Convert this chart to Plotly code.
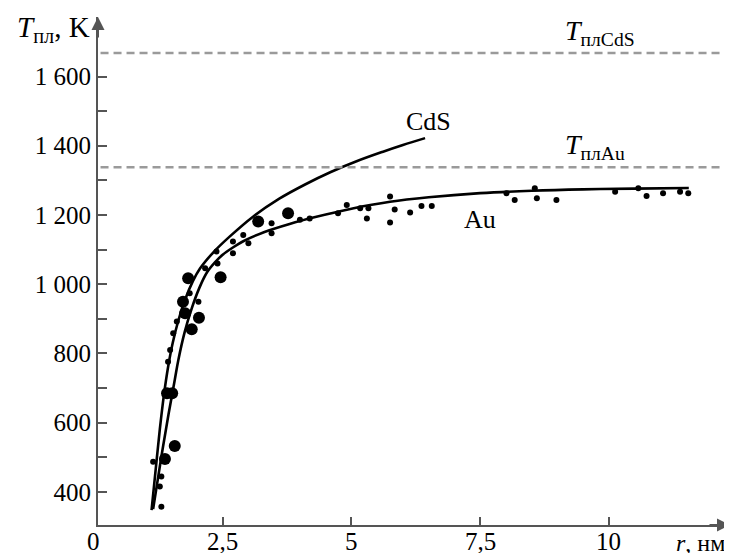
import plotly.graph_objects as go

# ---- data ----
cds_r = [1.12, 1.2, 1.28, 1.36, 1.44, 1.53, 1.64, 1.77, 1.92, 2.06, 2.32, 2.64, 3.09, 3.6, 4.1, 4.6, 5.1, 5.6, 6.0, 6.43]
cds_T = [347, 465, 580, 680, 760, 830, 895, 955, 1008, 1045, 1092, 1138, 1195, 1247, 1288, 1324, 1355, 1382, 1402, 1422]

au_r = [1.15, 1.3, 1.45, 1.57, 1.64, 1.76, 1.9, 2.05, 2.2, 2.35, 2.5, 2.7, 2.9, 3.3, 3.8, 4.3, 5.0, 5.75, 6.5, 7.5, 8.5, 9.5, 10.5, 11.55]
au_T = [350, 492, 625, 723, 781, 860, 930, 990, 1035, 1063, 1085, 1106, 1124, 1150, 1174, 1194, 1218, 1238, 1251, 1263, 1270, 1274, 1276, 1278]

big_r = [3.19, 3.77, 1.83, 2.46, 1.73, 1.77, 2.04, 1.90, 1.42, 1.52, 1.57, 1.38]
big_T = [1181, 1205, 1017, 1020, 949, 916, 903, 870, 685, 685, 532, 495]

small_r = [3.45, 3.45, 2.90, 3.00, 2.70, 2.70, 2.38, 2.40, 2.16, 1.86, 2.03, 1.61, 1.54, 1.48, 1.44,
           1.15, 1.31, 1.28, 1.31, 4.0, 4.19, 4.74, 4.91, 5.17, 5.33, 5.30, 5.75, 5.84, 5.75, 6.14,
           6.36, 6.56, 8.01, 8.17, 8.56, 8.60, 8.98, 10.12, 10.57, 10.73, 11.05, 11.38, 11.54]
small_T = [1176, 1147, 1142, 1118, 1123, 1089, 1094, 1060, 1046, 974, 949, 892, 858, 810, 776,
           487, 444, 415, 357, 1186, 1190, 1205, 1229, 1219, 1219, 1190, 1253, 1216, 1178, 1207,
           1226, 1226, 1263, 1243, 1277, 1248, 1243, 1267, 1277, 1255, 1263, 1267, 1263]

T_melt_CdS = 1668
T_melt_Au = 1338

y_ticks = [400, 600, 800, 1000, 1200, 1400, 1600]
y_tick_text = ["400", "600", "800", "1 000", "1 200", "1 400", "1 600"]
y_minor = [500, 700, 900, 1100, 1300, 1500]
x_ticks = [0, 2.5, 5, 7.5, 10]
x_tick_text = ["0", "2,5", "5", "7,5", "10"]

X_RANGE = [0.08, 12.35]
FONT = "Liberation Serif"
AX = "#555555"

fig = go.Figure()
fig.add_trace(go.Scatter(x=cds_r, y=cds_T, mode="lines", line=dict(color="black", width=2.6, shape="spline"),
                         showlegend=False, hoverinfo="skip"))
fig.add_trace(go.Scatter(x=au_r, y=au_T, mode="lines", line=dict(color="black", width=2.6, shape="spline"),
                         showlegend=False, hoverinfo="skip"))
fig.add_trace(go.Scatter(x=big_r, y=big_T, mode="markers", marker=dict(color="black", size=12),
                         showlegend=False))
fig.add_trace(go.Scatter(x=small_r, y=small_T, mode="markers", marker=dict(color="black", size=6),
                         showlegend=False))

for yv in (T_melt_CdS, T_melt_Au):
    fig.add_shape(type="line", xref="paper", yref="y", x0=0.004, x1=1.005, y0=yv, y1=yv,
                  line=dict(color="#9a9a9a", width=2.5, dash="8px,5px"))

ann = [
    dict(x=9.1, y=T_melt_CdS, xref="x", yref="y", xanchor="left", yanchor="bottom", yshift=1,
         text="<i>T</i><sub>плCdS</sub>", showarrow=False, font=dict(family=FONT, size=28, color="black")),
    dict(x=9.1, y=T_melt_Au, xref="x", yref="y", xanchor="left", yanchor="bottom", yshift=1,
         text="<i>T</i><sub>плAu</sub>", showarrow=False, font=dict(family=FONT, size=28, color="black")),
    dict(x=6.5, y=1469, xref="x", yref="y", text="CdS", showarrow=False,
         font=dict(family=FONT, size=26, color="black")),
    dict(x=7.5, y=1188, xref="x", yref="y", text="Au", showarrow=False,
         font=dict(family=FONT, size=26, color="black")),
    dict(x=0, y=0.976, xref="paper", yref="paper", xanchor="right", yanchor="middle", xshift=-6,
         text="<i>T</i><sub>пл</sub>, K", showarrow=False, font=dict(family=FONT, size=29, color="black")),
    dict(x=0.953, y=-0.005, xref="paper", yref="paper", xanchor="center", yanchor="top",
         text="<i>r</i>, нм", showarrow=False, font=dict(family=FONT, size=24, color="black")),
    # axis arrows
    dict(x=0, y=1, xref="paper", yref="paper", ax=0, ay=22, text="", showarrow=True,
         arrowhead=2, arrowsize=1.3, arrowwidth=2, arrowcolor=AX),
    dict(x=1, y=0, xref="paper", yref="paper", ax=-22, ay=0, text="", showarrow=True,
         arrowhead=2, arrowsize=1.3, arrowwidth=2, arrowcolor=AX),
]
span = X_RANGE[1] - X_RANGE[0]
for xv, tt in zip(x_ticks, x_tick_text):
    ann.append(dict(x=(xv - X_RANGE[0]) / span, y=0, xref="paper", yref="paper", xanchor="center",
                    yanchor="top", yshift=-1, text=tt, showarrow=False,
                    font=dict(family=FONT, size=25, color="black")))

fig.update_layout(
    width=724, height=545,
    margin=dict(l=90, r=2, t=9, b=28),
    paper_bgcolor="white", plot_bgcolor="white",
    annotations=ann,
    font=dict(family=FONT, size=25, color="black"),
    xaxis=dict(range=X_RANGE, showgrid=False, zeroline=False, showline=True, linecolor=AX, linewidth=2,
               tickvals=x_ticks[1:], ticks="inside", ticklen=8, tickwidth=1.5, tickcolor=AX,
               showticklabels=False, automargin=False),
    yaxis=dict(range=[304, 1772], showgrid=False, zeroline=False, showline=True, linecolor=AX, linewidth=2,
               tickvals=y_ticks, ticktext=y_tick_text, ticks="inside", ticklen=9, tickwidth=1.5, tickcolor=AX,
               minor=dict(tickvals=y_minor, ticks="inside", ticklen=9, tickwidth=1.5, tickcolor=AX),
               tickfont=dict(family=FONT, size=25, color="black"), automargin=False),
)

fig.write_html("out.html")
